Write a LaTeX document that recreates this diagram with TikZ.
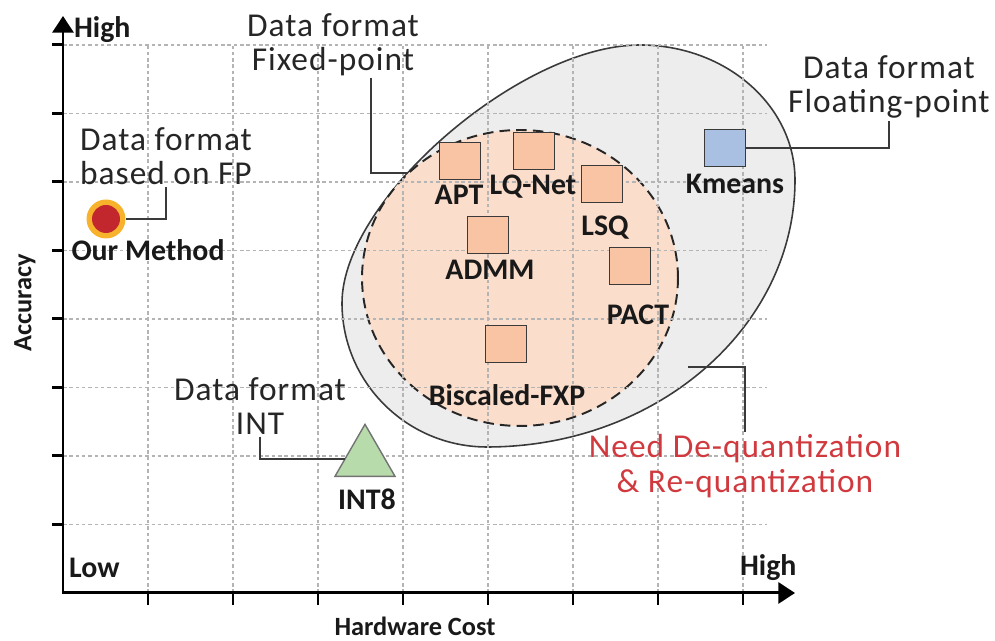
\documentclass[tikz,border=0pt]{standalone}
\usepackage{fontspec}
\setmainfont{Carlito}
\usetikzlibrary{arrows.meta,shapes.geometric}
\definecolor{gridgray}{HTML}{B4B4B4}
\definecolor{outerfill}{HTML}{EDEDED}
\definecolor{innerfill}{HTML}{FBDDCB}
\definecolor{sqfill}{HTML}{F8C4A4}
\definecolor{kmfill}{HTML}{A9C0E2}
\definecolor{trifill}{HTML}{B7DBAB}
\definecolor{dotring}{HTML}{F7B32B}
\definecolor{dotcore}{HTML}{C1272D}
\definecolor{redtext}{HTML}{D03A3F}
\definecolor{inkgray}{HTML}{3A3A3A}
\tikzset{
  axisline/.style={line width=1.7pt,-{Triangle[length=9.5pt,width=12pt]}},
  gridline/.style={gridgray,line width=0.6pt,dash pattern=on 2pt off 1.6pt},
  tickmark/.style={line width=1.7pt},
  method/.style={draw=inkgray,line width=0.9pt,fill=sqfill,minimum width=0.82cm,minimum height=0.74cm,inner sep=0pt},
  mlabel/.style={font=\fontsize{17}{19}\selectfont\bfseries,text=black!90,inner sep=1pt},
  note/.style={font=\fontsize{19}{19.5}\selectfont\addfontfeatures{LetterSpace=3},text=black!85,align=center,inner sep=1pt},
  leader/.style={inkgray,line width=1pt},
}
\begin{document}
\begin{tikzpicture}[x=0.02cm,y=0.02cm]
\useasboundingbox (0,0) rectangle (995,641);

% floating-point region (egg-shaped outline)
\draw[fill=outerfill,draw=inkgray,line width=0.9pt]
  (640,596) .. controls (725.6,596) and (795,535.5) .. (795,461)
            .. controls (795,314) and (657,194) .. (487,194)
            .. controls (407,194) and (342,258.5) .. (342,338)
            .. controls (342,441.2) and (520.8,596) .. cycle;
% fixed-point region
\draw[fill=innerfill,draw=black!85,line width=1.1pt,dash pattern=on 6pt off 3.5pt]
  (520,363) ellipse [x radius=3.16cm,y radius=2.96cm];

% grid
\foreach \k in {1,...,8}{
  \draw[gridline] (63+85*\k,48) -- (63+85*\k,596);
  \draw[gridline] (63,48+68.5*\k) -- (767,48+68.5*\k);
  \draw[tickmark] (52,48+68.5*\k) -- (63,48+68.5*\k);
  \draw[tickmark] (63+85*\k,48) -- (63+85*\k,36);
}

% axes
\draw[axisline] (63,47) -- (63,625);
\draw[axisline] (62,48) -- (795,48);
\node[mlabel,anchor=west] (yhigh) at (72,611) {High};
\node[mlabel,anchor=west] (xlow) at (67,73) {Low};
\node[mlabel,anchor=west] (xhigh) at (738,73) {High};
\node[mlabel,font=\fontsize{15}{17}\selectfont\bfseries] (xlab) at (415,15) {Hardware Cost};
\node[mlabel,font=\fontsize{15}{17}\selectfont\bfseries,rotate=90] (ylab) at (25,338) {Accuracy};

% methods
\node[method] (apt) at (460,480) {};
\node[method] (lqnet) at (534,490) {};
\node[method] (lsq) at (602,457) {};
\node[method] (admm) at (488,406) {};
\node[method] (pact) at (630,375) {};
\node[method] (bisc) at (506,297) {};
\node[method,fill=kmfill] (kmeans) at (725,493) {};
\node[regular polygon,regular polygon sides=3,draw=black!55,line width=0.8pt,fill=trifill,
      minimum size=1.386cm,inner sep=0pt,outer sep=0pt] (int8) at (365,182) {};
\node[circle,fill=dotring,minimum size=0.78cm,inner sep=0pt] (ours) at (106,422) {};
\node[circle,fill=dotcore,minimum size=0.56cm,inner sep=0pt] at (ours) {};

\node[mlabel] (aptl) at (459,446) {APT};
\node[mlabel] (lqnetl) at (533,454) {LQ-Net};
\node[mlabel] (lsql) at (605,413) {LSQ};
\node[mlabel] (admml) at (490,371) {ADMM};
\node[mlabel] (pactl) at (638,326) {PACT};
\node[mlabel] (biscl) at (507,246) {Biscaled-FXP};
\node[mlabel] (kmeansl) at (735,457) {Kmeans};
\node[mlabel] (oursl) at (148,391) {Our Method};
\node[mlabel] (int8l) at (367,142) {INT8};

% annotations
\node[note] (fixnote) at (333,596) {Data format\\Fixed-point};
\node[note] (fpnote) at (166,485) {Data format\\based on FP};
\node[note] (flnote) at (889,554) {Data format\\Floating-point};
\node[note] (intnote) at (260,235) {Data format\\INT};
\node[note,text=redtext] (dqnote) at (745,175) {Need De-quantization\\\& Re-quantization};

% leader lines
\coordinate (fixtop) at (371,563);
\coordinate (fixend) at (408,468);
\coordinate (dqend) at (688,274);
\draw[leader] (fixtop) |- (fixend);
\draw[leader] (ours.east) -| (fpnote.south);
\draw[leader] (kmeans.east) -| (flnote.south);
\draw[leader] (intnote.south) |- (int8.west);
\draw[leader] (dqend) -| (dqnote.north);
\end{tikzpicture}
\end{document}
